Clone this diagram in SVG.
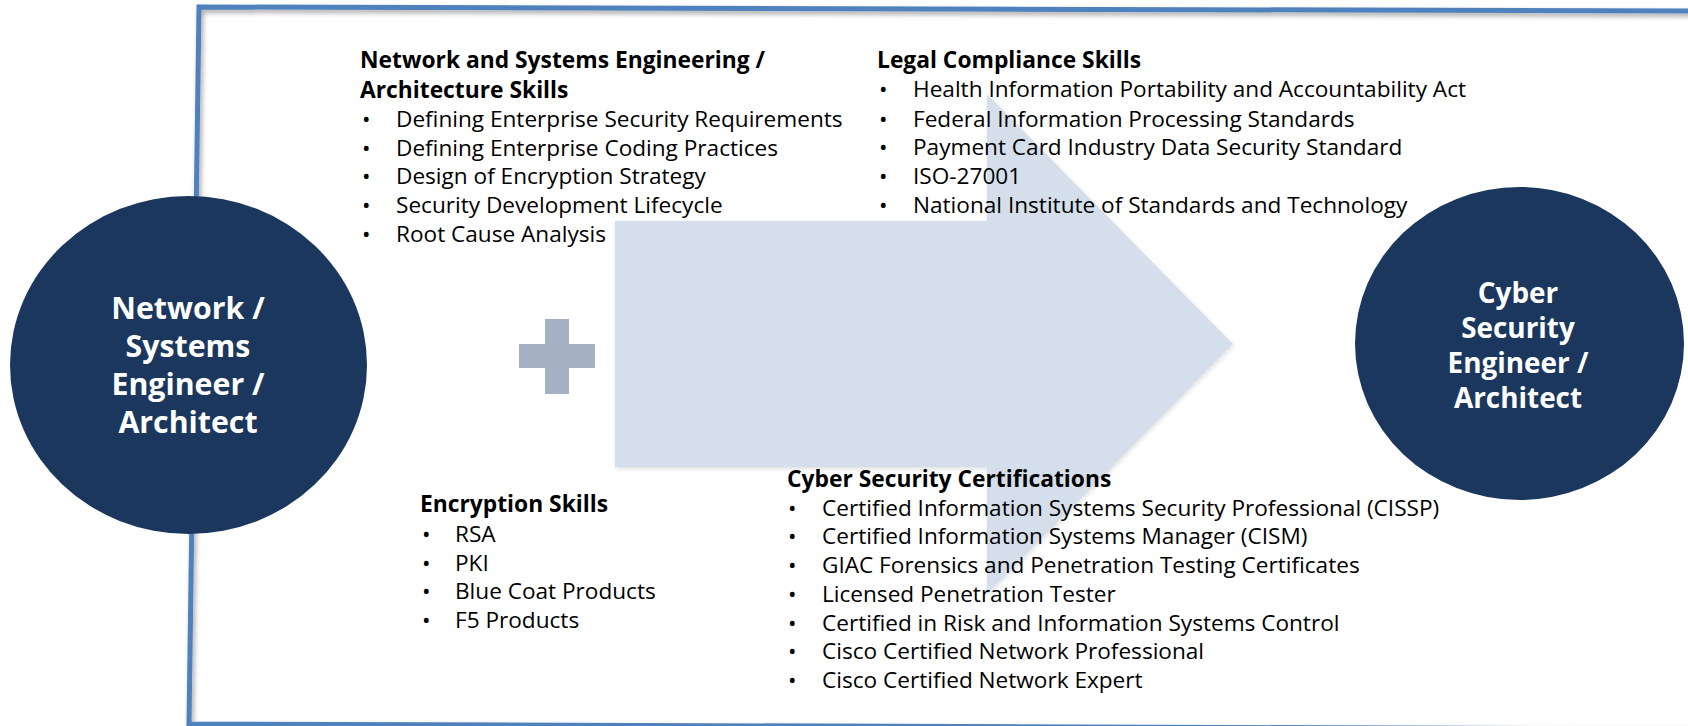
<svg xmlns="http://www.w3.org/2000/svg" width="1688" height="726" viewBox="0 0 1688 726">
<style>
.h{font-family:"Open Sans","Noto Sans","DejaVu Sans",sans-serif;font-weight:bold;font-size:22.8px;fill:#000}
.t{font-family:"Open Sans","Noto Sans","DejaVu Sans",sans-serif;font-size:22.6px;fill:#000}
.c{font-family:"Open Sans","Noto Sans","DejaVu Sans",sans-serif;font-weight:bold;fill:#fff;text-anchor:middle}
.node{fill:#1b375e}
.frame{fill:none;stroke:#4f81bd;stroke-width:5}
</style>
<defs>
<filter id="sh" x="-5%" y="-5%" width="110%" height="110%">
<feDropShadow dx="2" dy="3" stdDeviation="2.5" flood-color="#000" flood-opacity="0.35"/>
</filter>
<filter id="ash" x="-5%" y="-5%" width="110%" height="110%">
<feDropShadow dx="1" dy="2" stdDeviation="2" flood-color="#000" flood-opacity="0.12"/>
</filter>
</defs>
<rect width="1688" height="726" fill="#fff"/>
<g id="frame" filter="url(#sh)">
<path class="frame" d="M1690,11 L199,7 L189,724 L1690,729"/>
</g>
<g id="connectors">
<polygon id="arrow" points="615,221 987,221 987,94 1233,344 987,594 987,467 615,467" fill="#d5dfeb" filter="url(#ash)"/>
<g id="plus" fill="#a5b1c2">
<rect x="545" y="319" width="24" height="75"/>
<rect x="519" y="344" width="76" height="24"/>
</g>
</g>
<g id="node-left">
<ellipse class="node" cx="188.5" cy="365" rx="178.5" ry="169"/>
<text class="c" font-size="30.3" x="188" y="319">Network /</text>
<text class="c" font-size="30.3" x="188" y="357">Systems</text>
<text class="c" font-size="30.3" x="188" y="395">Engineer /</text>
<text class="c" font-size="30.3" x="188" y="433">Architect</text>
</g>
<g id="node-right">
<ellipse class="node" cx="1519.5" cy="343.5" rx="164.5" ry="156.5"/>
<text class="c" font-size="27.9" x="1518" y="303">Cyber</text>
<text class="c" font-size="27.9" x="1518" y="338">Security</text>
<text class="c" font-size="27.9" x="1518" y="373">Engineer /</text>
<text class="c" font-size="27.9" x="1518" y="408">Architect</text>
</g>
<g id="list-network">
<text class="h" x="360" y="68">Network and Systems Engineering /</text>
<text class="h" x="360" y="98">Architecture Skills</text>
<text class="t" x="362" y="127">•</text><text class="t" x="396" y="127">Defining Enterprise Security Requirements</text>
<text class="t" x="362" y="156">•</text><text class="t" x="396" y="156">Defining Enterprise Coding Practices</text>
<text class="t" x="362" y="184">•</text><text class="t" x="396" y="184">Design of Encryption Strategy</text>
<text class="t" x="362" y="213">•</text><text class="t" x="396" y="213">Security Development Lifecycle</text>
<text class="t" x="362" y="242">•</text><text class="t" x="396" y="242">Root Cause Analysis</text>
</g>
<g id="list-legal">
<text class="h" x="877" y="68">Legal Compliance Skills</text>
<text class="t" x="879" y="97">•</text><text class="t" x="913" y="97">Health Information Portability and Accountability Act</text>
<text class="t" x="879" y="127">•</text><text class="t" x="913" y="127">Federal Information Processing Standards</text>
<text class="t" x="879" y="155">•</text><text class="t" x="913" y="155">Payment Card Industry Data Security Standard</text>
<text class="t" x="879" y="184">•</text><text class="t" x="913" y="184">ISO-27001</text>
<text class="t" x="879" y="213">•</text><text class="t" x="913" y="213">National Institute of Standards and Technology</text>
</g>
<g id="list-encryption">
<text class="h" x="420" y="512">Encryption Skills</text>
<text class="t" x="422" y="542">•</text><text class="t" x="455" y="542">RSA</text>
<text class="t" x="422" y="571">•</text><text class="t" x="455" y="571">PKI</text>
<text class="t" x="422" y="599">•</text><text class="t" x="455" y="599">Blue Coat Products</text>
<text class="t" x="422" y="628">•</text><text class="t" x="455" y="628">F5 Products</text>
</g>
<g id="list-certs">
<text class="h" x="787" y="487">Cyber Security Certifications</text>
<text class="t" x="788" y="516">•</text><text class="t" x="822" y="516">Certified Information Systems Security Professional (CISSP)</text>
<text class="t" x="788" y="544">•</text><text class="t" x="822" y="544">Certified Information Systems Manager (CISM)</text>
<text class="t" x="788" y="573">•</text><text class="t" x="822" y="573">GIAC Forensics and Penetration Testing Certificates</text>
<text class="t" x="788" y="602">•</text><text class="t" x="822" y="602">Licensed Penetration Tester</text>
<text class="t" x="788" y="631">•</text><text class="t" x="822" y="631">Certified in Risk and Information Systems Control</text>
<text class="t" x="788" y="659">•</text><text class="t" x="822" y="659">Cisco Certified Network Professional</text>
<text class="t" x="788" y="688">•</text><text class="t" x="822" y="688">Cisco Certified Network Expert</text>
</g>
</svg>
